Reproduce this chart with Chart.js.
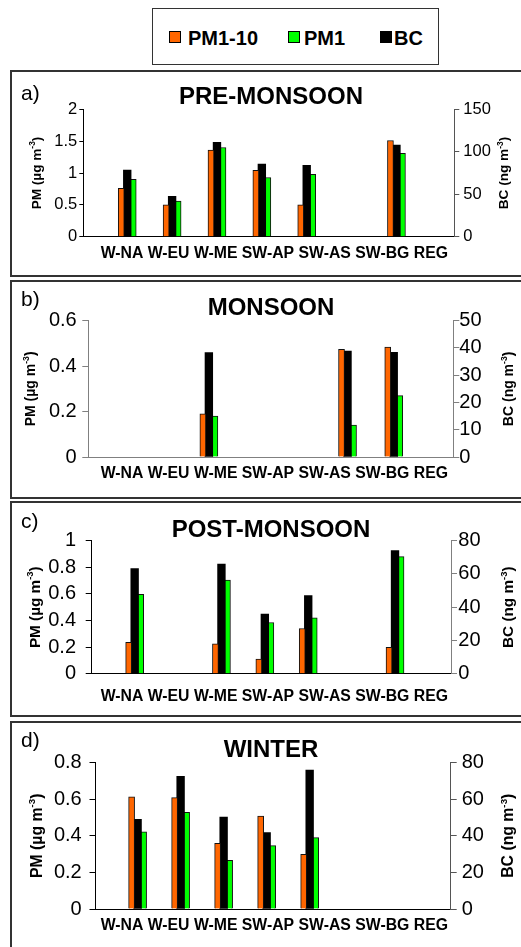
<!DOCTYPE html>
<html>
<head>
<meta charset="utf-8">
<script src="https://cdn.jsdelivr.net/npm/chart.js@4.4.1/dist/chart.umd.min.js"></script>
<style>
  html, body { margin: 0; padding: 0; background: #fff; }
  body { width: 521px; height: 947px; position: relative; overflow: hidden; font-family: 'Liberation Sans', Arial, sans-serif; }
  .frame { position: absolute; left: 10px; width: 530px; border: 2px solid #333; box-sizing: border-box; }
  canvas { position: absolute; left: 0; }
  #legend { position: absolute; left: 152px; top: 8px; width: 287px; height: 57px; border: 1px solid #333; box-sizing: border-box; }
  .sw { position: absolute; top: 22px; width: 12px; height: 12px; border: 1px solid #000; box-sizing: border-box; }
  .lt { position: absolute; top: 19px; font-weight: bold; font-size: 20px; line-height: 20px; color: #000; }
</style>
</head>
<body>
<div id="legend"></div>
<script>
const FONT = "'Liberation Sans', Arial, sans-serif";

// categories (x axis)
const categories = ['W-NA', 'W-EU', 'W-ME', 'SW-AP', 'SW-AS', 'SW-BG', 'REG'];
const seriesNames = ['PM1-10', 'PM1', 'BC'];
const seriesColors = ['#ff6600', '#00ff00', '#000000'];

// a) pre-monsoon
const preCoarse = [0.76, 0.50, 1.36, 1.04, 0.50, null, 1.51];
const prePM1    = [0.90, 0.56, 1.40, 0.93, 0.98, null, 1.31];
const preBC     = [78.5, 47.6, 111, 85.6, 84, null, 108];
// b) monsoon
const monCoarse = [null, null, 0.19, null, null, 0.474, 0.484];
const monPM1    = [null, null, 0.18, null, null, 0.141, 0.27];
const monBC     = [null, null, 38.3, null, null, 38.9, 38.4];
// c) post-monsoon
const postCoarse = [0.236, null, 0.225, 0.11, 0.34, null, 0.198];
const postPM1    = [0.596, null, 0.703, 0.385, 0.42, null, 0.88];
const postBC     = [63.2, null, 66, 35.8, 47, null, 74];
// d) winter
const winCoarse = [0.612, 0.608, 0.359, 0.508, 0.299, null, null];
const winPM1    = [0.422, 0.528, 0.266, 0.346, 0.39, null, null];
const winBC     = [49, 72.5, 50.2, 41.7, 75.9, null, null];

// legend (html)
const legendPos = [[16, 35], [135, 151], [227, 241]];
const legend = document.getElementById('legend');
seriesNames.forEach((name, i) => {
  const sw = document.createElement('div');
  sw.className = 'sw';
  sw.style.left = legendPos[i][0] + 'px';
  sw.style.background = seriesColors[i];
  legend.appendChild(sw);
  const lt = document.createElement('div');
  lt.className = 'lt';
  lt.style.left = legendPos[i][1] + 'px';
  lt.textContent = name;
  legend.appendChild(lt);
});

const panels = [
  { letter: 'a)', title: 'PRE-MONSOON', coarse: preCoarse, fine: prePM1, bc: preBC,
    pmMax: 2, pmStep: 0.5, bcMax: 150, bcStep: 50,
    top: 70, height: 207, area: { left: 83.3, right: 454.3, top: 109.3, bottom: 236.7 },
    xMin: -0.52, xMax: 6.83, tickSize: 16.5, tickL: [4, 2], tickR: [5, 4],
    axisL: '#000', axisR: '#555', titleY: 97, letterY: 94, labelY: 254, unitSize: 13.6, unitX: [36, 503.5] },
  { letter: 'b)', title: 'MONSOON', coarse: monCoarse, fine: monPM1, bc: monBC,
    pmMax: 0.6, pmStep: 0.2, bcMax: 50, bcStep: 10,
    top: 280, height: 219, area: { left: 88.3, right: 453.3, top: 320.7, bottom: 457 },
    xMin: -0.17, xMax: 6.85, tickSize: 20, tickL: [6, 5.6], tickR: [6, 0],
    axisL: '#808080', axisR: '#808080', titleY: 308.3, letterY: 300, labelY: 474, unitSize: 14, unitX: [30, 508] },
  { letter: 'c)', title: 'POST-MONSOON', coarse: postCoarse, fine: postPM1, bc: postBC,
    pmMax: 1, pmStep: 0.2, bcMax: 80, bcStep: 20,
    top: 501, height: 216, area: { left: 91.7, right: 451, top: 540.7, bottom: 673.7 },
    xMin: -0.53, xMax: 6.83, tickSize: 20, tickL: [6, 9.7], tickR: [6, 1.3],
    axisL: '#000', axisR: '#808080', titleY: 530, letterY: 522, labelY: 696.7, unitSize: 15.3, unitX: [34, 507.5] },
  { letter: 'd)', title: 'WINTER', coarse: winCoarse, fine: winPM1, bc: winBC,
    pmMax: 0.8, pmStep: 0.2, bcMax: 80, bcStep: 20,
    top: 721, height: 240, area: { left: 95.5, right: 450.7, top: 762.5, bottom: 909 },
    xMin: -0.52, xMax: 6.82, tickSize: 20, tickL: [6, 7.8], tickR: [6, 5],
    axisL: '#000', axisR: '#555', titleY: 750, letterY: 741, labelY: 926, unitSize: 15.8, unitX: [36, 507.5] }
];

// rotated axis title with superscript "-3"
function drawUnitTitle(ctx, head, x, y, size) {
  const sup = '-3', tail = ')';
  const big = `bold ${size}px ${FONT}`, small = `bold ${size * 0.62}px ${FONT}`;
  ctx.save();
  ctx.translate(x, y);
  ctx.rotate(-Math.PI / 2);
  ctx.textAlign = 'left';
  ctx.textBaseline = 'alphabetic';
  ctx.font = big;
  const w1 = ctx.measureText(head).width, w3 = ctx.measureText(tail).width;
  ctx.font = small;
  const w2 = ctx.measureText(sup).width;
  let cx = -(w1 + w2 + w3) / 2;
  const base = size * 0.36;
  ctx.font = big; ctx.fillText(head, cx, base); cx += w1;
  ctx.font = small; ctx.fillText(sup, cx, base - size * 0.42); cx += w2;
  ctx.font = big; ctx.fillText(tail, cx, base);
  ctx.restore();
}

function textPlugin(p) {
  return {
    id: 'panelText',
    afterDraw(chart) {
      const ctx = chart.ctx, t0 = p.top, area = chart.chartArea;
      ctx.save();
      ctx.fillStyle = '#000';
      ctx.textBaseline = 'middle';
      ctx.textAlign = 'left';
      ctx.font = `21px ${FONT}`;
      ctx.fillText(p.letter, 21, p.letterY - t0);
      ctx.textAlign = 'center';
      ctx.font = `bold 24px ${FONT}`;
      ctx.fillText(p.title, 271, p.titleY - t0);
      ctx.font = `bold 15.8px ${FONT}`;
      ctx.fillText(categories.join(' '), 274.3, p.labelY - t0);
      const mid = (area.top + area.bottom) / 2;
      drawUnitTitle(ctx, 'PM (\u00b5g m', p.unitX[0], mid, p.unitSize);
      drawUnitTitle(ctx, 'BC (ng m', p.unitX[1], mid, p.unitSize);
      ctx.restore();
    }
  };
}

const fmt = v => String(+v.toFixed(2));

panels.forEach(p => {
  const frame = document.createElement('div');
  frame.className = 'frame';
  frame.style.top = p.top + 'px';
  frame.style.height = p.height + 'px';
  document.body.appendChild(frame);

  const cv = document.createElement('canvas');
  cv.width = 521;
  cv.height = p.height;
  cv.style.top = p.top + 'px';
  document.body.appendChild(cv);

  const a = p.area, t0 = p.top;
  const pts = vals => categories.map((c, i) => ({ x: i, y: vals[i] }));

  new Chart(cv, {
    type: 'bar',
    data: {
      datasets: [
        { label: seriesNames[0], data: pts(p.coarse), backgroundColor: seriesColors[0],
          borderColor: '#111', borderWidth: 1, barThickness: 6, yAxisID: 'y' },
        { label: seriesNames[2], data: pts(p.bc), backgroundColor: seriesColors[2],
          borderColor: '#000', borderWidth: 0, barThickness: 7.7, yAxisID: 'y2' },
        { label: seriesNames[1], data: pts(p.fine), backgroundColor: seriesColors[1],
          borderColor: '#111', borderWidth: 1, barThickness: 6, yAxisID: 'y' }
      ]
    },
    options: {
      responsive: false,
      animation: false,
      devicePixelRatio: 1,
      layout: { padding: { top: a.top - t0, left: 0, right: 0, bottom: 0 } },
      plugins: { legend: { display: false }, tooltip: { enabled: false }, title: { display: false } },
      scales: {
        x: {
          type: 'linear', min: p.xMin, max: p.xMax, bounds: 'data',
          ticks: { display: false },
          grid: { display: false },
          border: { display: true, color: p.axisL, width: 1 },
          afterFit: s => { s.height = p.height - (a.bottom - t0); }
        },
        y: {
          position: 'left', min: 0, max: p.pmMax,
          ticks: { stepSize: p.pmStep, padding: p.tickL[1], color: '#000', autoSkip: false,
                   font: { family: FONT, size: p.tickSize }, callback: fmt },
          grid: { drawOnChartArea: false, tickLength: p.tickL[0], color: p.axisL },
          border: { display: true, color: p.axisL, width: 1 },
          afterFit: s => { s.width = a.left; }
        },
        y2: {
          position: 'right', min: 0, max: p.bcMax,
          ticks: { stepSize: p.bcStep, padding: p.tickR[1], color: '#000', autoSkip: false,
                   font: { family: FONT, size: p.tickSize }, callback: fmt },
          grid: { drawOnChartArea: false, tickLength: p.tickR[0], color: p.axisR },
          border: { display: true, color: p.axisR, width: 1 },
          afterFit: s => { s.width = 521 - a.right; }
        }
      }
    },
    plugins: [textPlugin(p)]
  });
});
</script>
</body>
</html>
